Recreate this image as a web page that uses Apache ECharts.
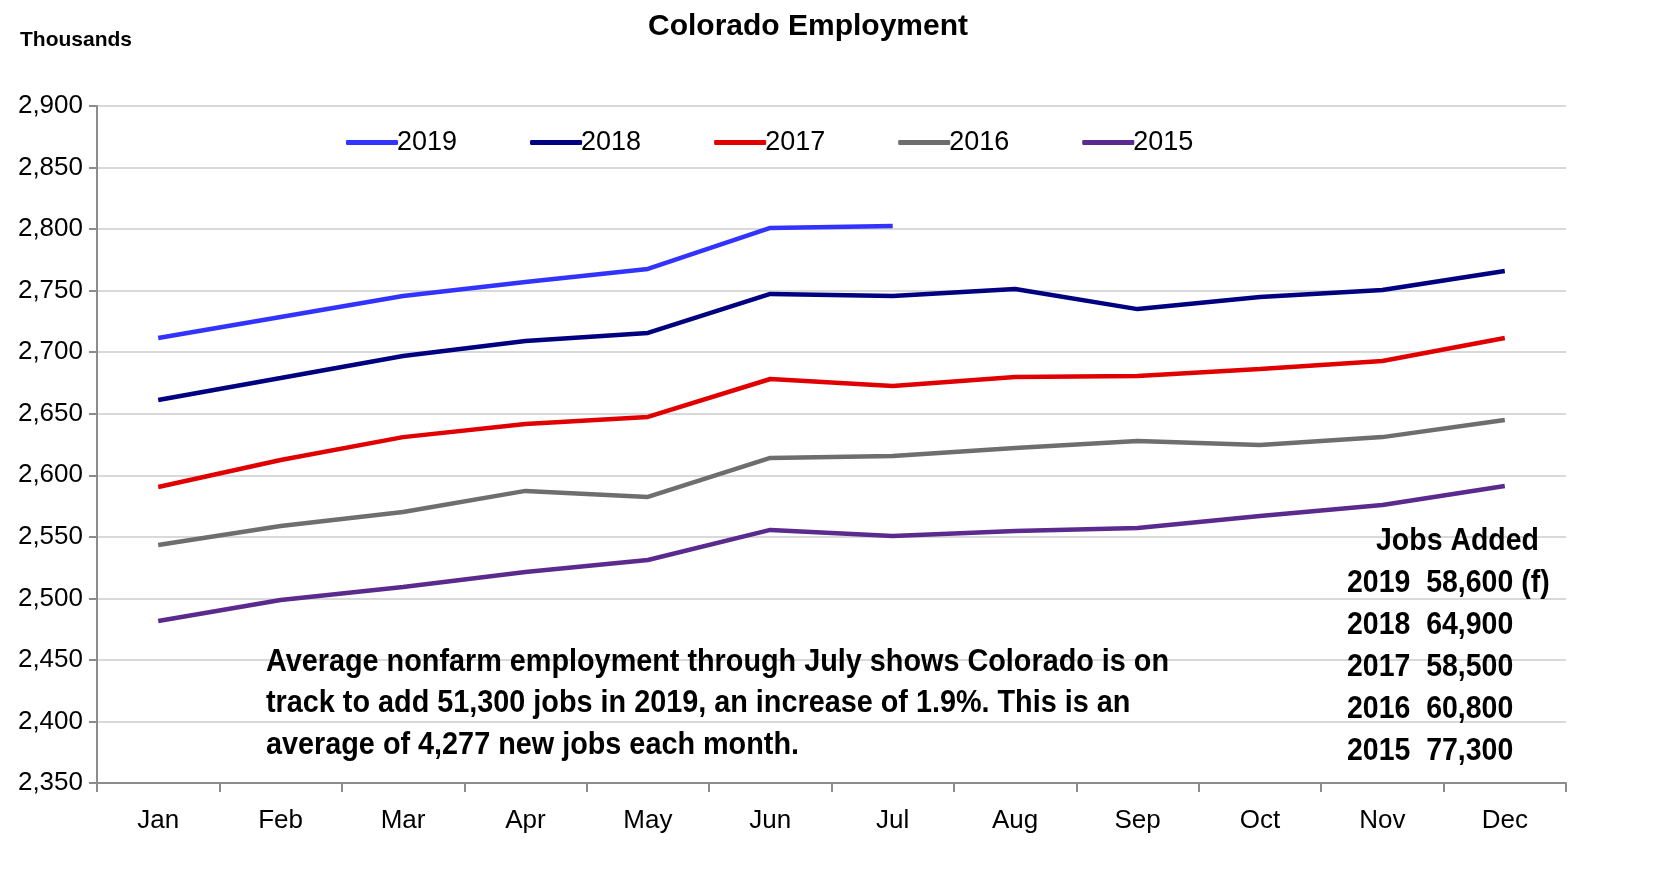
<!DOCTYPE html>
<html><head><meta charset="utf-8">
<script src="https://cdn.jsdelivr.net/npm/echarts@6/dist/echarts.min.js"></script>
<style>html,body{margin:0;padding:0;background:#fff}#c{width:1669px;height:890px}</style>
</head><body><div id="c"></div>
<script>
const months = ['Jan','Feb','Mar','Apr','May','Jun','Jul','Aug','Sep','Oct','Nov','Dec'];
const y2019 = [2711.5, 2728.6, 2745.7, 2757.0, 2767.6, 2800.9, 2802.5];
const y2018 = [2661.2, 2679.0, 2696.9, 2709.0, 2715.6, 2747.3, 2745.7, 2751.3, 2735.0, 2744.8, 2750.5, 2766.0];
const y2017 = [2590.5, 2612.4, 2631.0, 2641.7, 2647.4, 2678.2, 2672.5, 2679.9, 2680.7, 2686.4, 2692.9, 2711.5];
const y2016 = [2543.4, 2558.8, 2570.2, 2587.3, 2582.4, 2614.1, 2615.7, 2622.2, 2627.9, 2624.6, 2631.0, 2644.9];
const y2015 = [2481.6, 2498.7, 2509.3, 2521.5, 2531.2, 2555.6, 2550.7, 2554.8, 2557.2, 2566.9, 2575.9, 2591.3];
const jobsYears = ['2019','2018','2017','2016','2015'];
const jobsAdded = ['58,600 (f)','64,900','58,500','60,800','77,300'];
const note = ['Average nonfarm employment through July shows Colorado is on',
              'track to add 51,300 jobs in 2019, an increase of 1.9%. This is an',
              'average of 4,277 new jobs each month.'];

const F = '"Liberation Sans Narrow","Arial Narrow","Liberation Sans",Arial,sans-serif';
const colors = {'2019':'#3333ff','2018':'#000080','2017':'#e00000','2016':'#6e6e6e','2015':'#5b2a8e'};
const seriesData = [['2019',y2019],['2018',y2018],['2017',y2017],['2016',y2016],['2015',y2015]];

function txt(x, y, s, font, sx){
  return {type:'text', x:x, y:y, z:100, scaleX:sx, scaleY:1,
    style:{text:s, font:font, fill:'#000', textAlign:'left', textVerticalAlign:'middle'}};
}

const chart = echarts.init(document.getElementById('c'));
chart.setOption({
  animation:false,
  title:{text:'Colorado Employment',left:803,top:7,textAlign:'center',
    textStyle:{fontFamily:F,fontSize:30,fontWeight:'bold',color:'#000'}},
  legend:{top:124,left:341,itemGap:73,itemWidth:52,itemHeight:5,icon:'roundRect',
    textStyle:{fontFamily:F,fontSize:27,color:'#000',padding:[0,0,0,-6]},
    data:seriesData.map(s=>s[0])},
  grid:{left:97,right:103,top:106,bottom:107,containLabel:false},
  xAxis:{type:'category',data:months,boundaryGap:true,
    axisLine:{lineStyle:{color:'#8c8c8c',width:2}},
    axisTick:{show:true,interval:0,length:9,lineStyle:{color:'#8c8c8c',width:2}},
    axisLabel:{fontFamily:F,fontSize:26,color:'#000',margin:25}},
  yAxis:{type:'value',min:2350,max:2900,interval:50,
    axisLine:{show:true,lineStyle:{color:'#8c8c8c',width:2}},
    axisTick:{show:true,length:8,lineStyle:{color:'#8c8c8c',width:2}},
    splitLine:{lineStyle:{color:'#d9d9d9',width:2}},
    axisLabel:{fontFamily:F,fontSize:26,color:'#000',margin:14,
      formatter:v=>v.toLocaleString('en-US')}},
  series:seriesData.map(([n,d])=>({name:n,type:'line',data:d,showSymbol:false,symbol:'none',
    lineStyle:{color:colors[n],width:4.5},itemStyle:{color:colors[n]}})),
  graphic:[
    txt(1376, 541, 'Jobs Added', 'bold 32px '+F, 0.89),
    ...jobsYears.map((y,i)=>txt(1347, 583+i*42, y+'  '+jobsAdded[i], 'bold 32px '+F, 0.89)),
    ...note.map((t,i)=>txt(266, 662+i*41.5, t, 'bold 32px '+F, 0.9)),
    txt(20, 40, 'Thousands', 'bold 21px '+F, 1)
  ]
});
</script></body></html>
